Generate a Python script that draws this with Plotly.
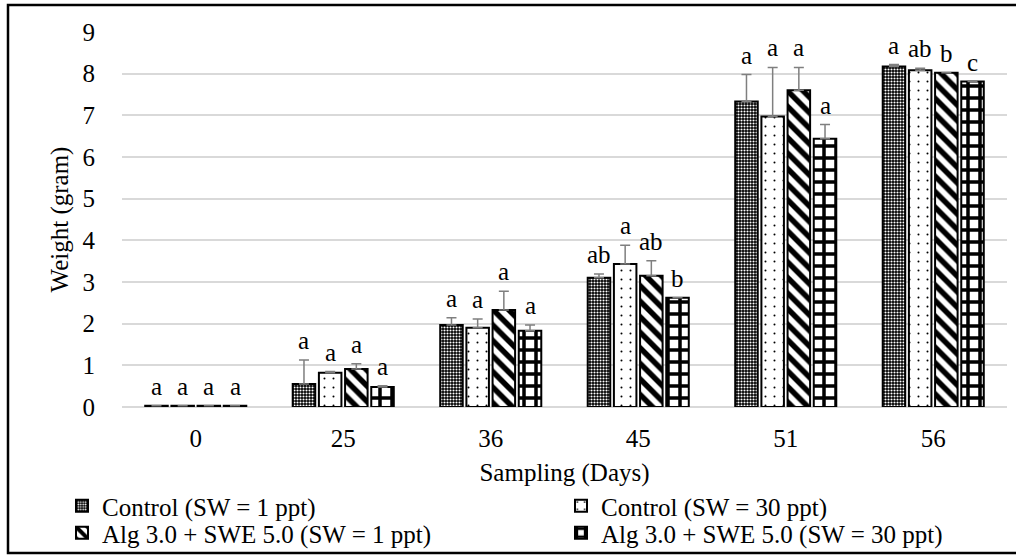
import plotly.graph_objects as go

days = ["0", "25", "36", "45", "51", "56"]

series_names = [
    "Control (SW = 1 ppt)",
    "Control (SW = 30 ppt)",
    "Alg 3.0 + SWE 5.0 (SW = 1 ppt)",
    "Alg 3.0 + SWE 5.0 (SW = 30 ppt)",
]

ctrl1 = [0.03, 0.55, 1.97, 3.10, 7.33, 8.17]
ctrl1_err = [0.0, 0.58, 0.17, 0.09, 0.65, 0.05]
ctrl1_lab = ["a", "a", "a", "ab", "a", "a"]

ctrl30 = [0.03, 0.82, 1.90, 3.43, 6.97, 8.08]
ctrl30_err = [0.0, 0.03, 0.21, 0.45, 1.18, 0.05]
ctrl30_lab = ["a", "a", "a", "a", "a", "ab"]

alg1 = [0.03, 0.91, 2.33, 3.15, 7.60, 8.02]
alg1_err = [0.0, 0.13, 0.45, 0.36, 0.55, 0.0]
alg1_lab = ["a", "a", "a", "ab", "a", "b"]

alg30 = [0.03, 0.48, 1.83, 2.62, 6.44, 7.81]
alg30_err = [0.0, 0.03, 0.14, 0.0, 0.34, 0.0]
alg30_lab = ["a", "a", "a", "b", "a", "c"]

y_ticks = [0, 1, 2, 3, 4, 5, 6, 7, 8, 9]

FONT = "Liberation Serif"
FS = 25

W, H = 1016, 555
ML, MR, MT, MB = 122, 9, 32, 148
BARGAP = 0.29
BARGROUPGAP = 0.14

patterns = [
    dict(shape=".", fgcolor="white", bgcolor="black", size=3, solidity=0.4, fillmode="replace"),
    dict(shape=".", fgcolor="black", bgcolor="white", size=9, solidity=0.04, fillmode="replace"),
    dict(shape="\\", fgcolor="black", bgcolor="white", size=11, solidity=0.5, fillmode="replace"),
    dict(shape="+", fgcolor="black", bgcolor="white", size=12, solidity=0.5, fillmode="replace"),
]

vals = [ctrl1, ctrl30, alg1, alg30]
errs = [ctrl1_err, ctrl30_err, alg1_err, alg30_err]
labs = [ctrl1_lab, ctrl30_lab, alg1_lab, alg30_lab]
legends = ["legend2", "legend3", "legend4", "legend5"]

fig = go.Figure()
for i in range(4):
    fig.add_trace(go.Bar(
        x=days, y=vals[i], name=series_names[i],
        marker=dict(color="white", pattern=patterns[i],
                    line=dict(color="black", width=2)),
        error_y=dict(type="data", symmetric=False, array=errs[i],
                     arrayminus=[0] * len(days), color="#7f7f7f",
                     thickness=1.5, width=5),
        legend=legends[i],
    ))

plot_w = W - ML - MR
ph = H - MT - MB
cat_w = plot_w / len(days)
slot = cat_w * (1 - BARGAP) / 4
annotations = []
for i in range(4):
    off = (i - 1.5) * slot
    for j in range(len(days)):
        annotations.append(dict(
            x=j, y=vals[i][j] + errs[i][j], xref="x", yref="y",
            text=labs[i][j], showarrow=False, xshift=off, yshift=4,
            yanchor="bottom", font=dict(family=FONT, size=FS, color="black"),
        ))

fig.add_shape(type="rect", xref="paper", yref="paper",
              x0=(8 - ML) / plot_w, x1=(1030 - ML) / plot_w,
              y0=-(553 - (H - MB)) / ph, y1=1 + (MT - 5) / ph,
              line=dict(color="black", width=2.5), layer="above")


def py(pix):
    return (H - MB - pix) / ph


def px(pix):
    return (pix - ML) / plot_w


leg_common = dict(xanchor="left", yanchor="middle", orientation="v",
                  font=dict(family=FONT, size=FS), bgcolor="rgba(0,0,0,0)",
                  borderwidth=0, itemwidth=30)

fig.update_layout(
    width=W, height=H,
    margin=dict(l=ML, r=MR, t=MT, b=MB, autoexpand=False),
    paper_bgcolor="white", plot_bgcolor="white",
    barmode="group", bargap=BARGAP, bargroupgap=BARGROUPGAP,
    font=dict(family=FONT, size=FS, color="black"),
    annotations=annotations,
    xaxis=dict(type="category", range=[-0.5, len(days) - 0.5],
               title=dict(text="Sampling (Days)", standoff=12,
                          font=dict(family=FONT, size=FS)),
               showline=False, ticks="", tickfont=dict(size=FS),
               ticklabelstandoff=14, showgrid=False),
    yaxis=dict(title=dict(text="Weight (gram)", standoff=6,
                          font=dict(family=FONT, size=FS)),
               range=[0, 9], tickvals=y_ticks, ticks="",
               ticklabelstandoff=26,
               showgrid=True, gridcolor="#d9d9d9", gridwidth=2,
               zeroline=True, zerolinecolor="#d9d9d9", zerolinewidth=2,
               tickfont=dict(size=FS)),
    legend2=dict(x=px(62), y=py(506), **leg_common),
    legend3=dict(x=px(561), y=py(506), **leg_common),
    legend4=dict(x=px(62), y=py(533), **leg_common),
    legend5=dict(x=px(561), y=py(533), **leg_common),
)

fig.write_html("out.html")
